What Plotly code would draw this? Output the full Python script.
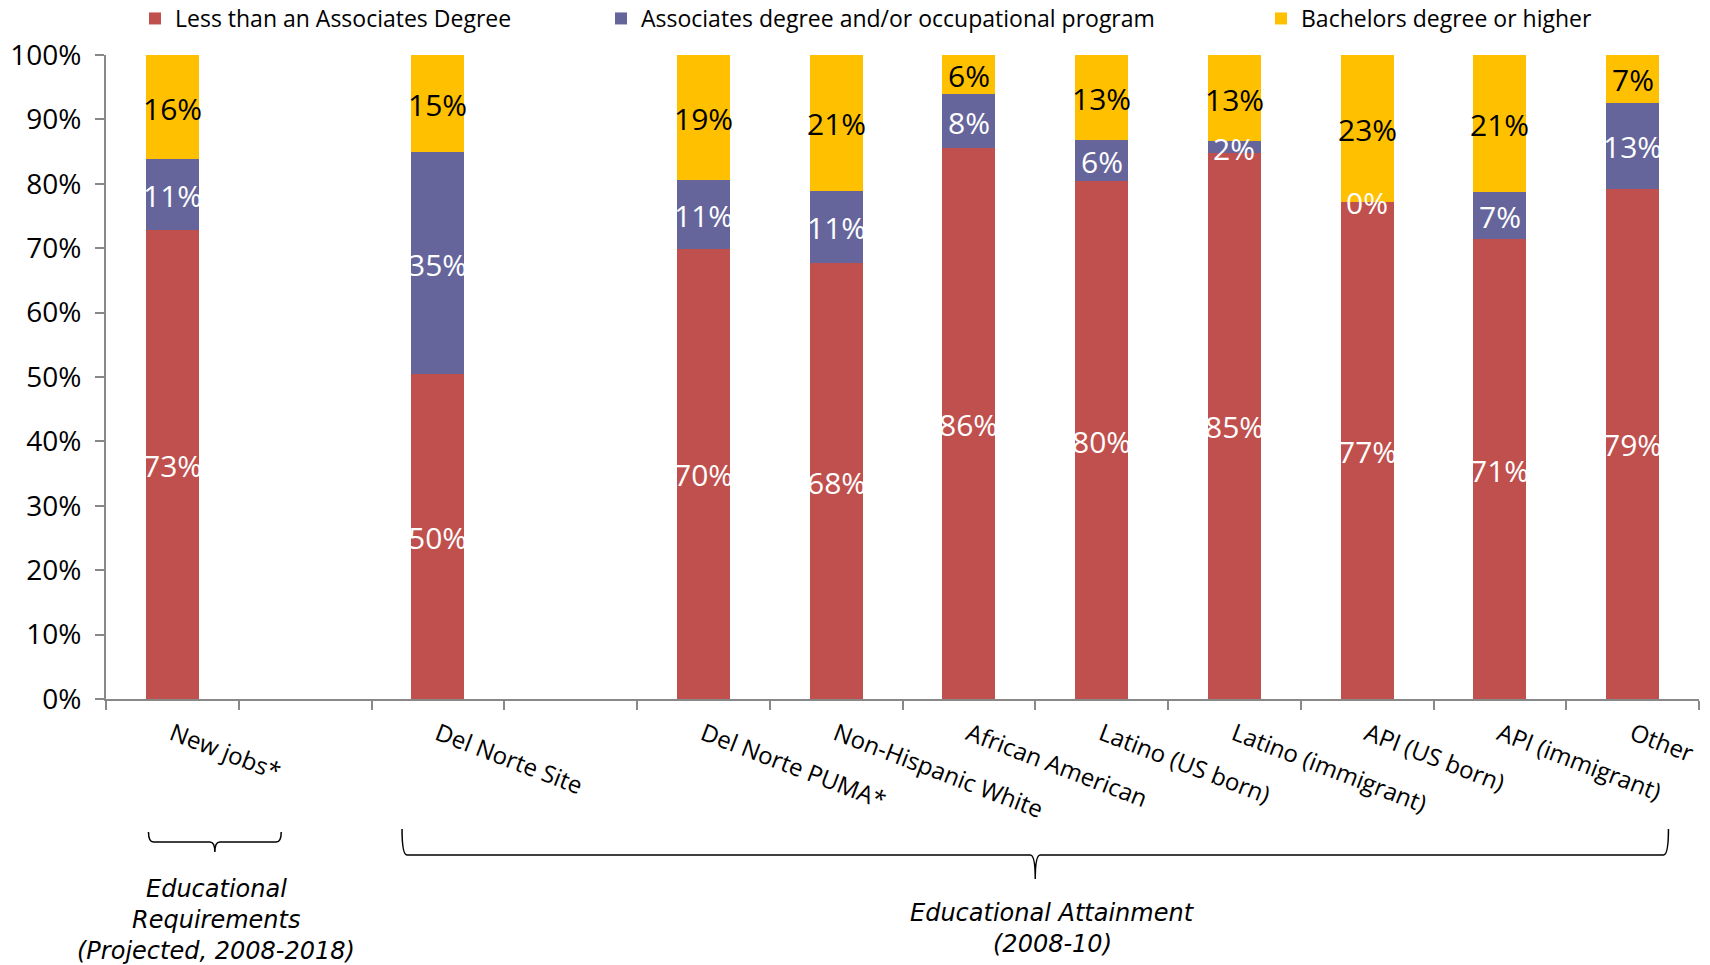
import plotly.graph_objects as go

categories = ["New jobs*", " ", "Del Norte Site", "  ", "Del Norte PUMA*", "Non-Hispanic White",
              "African American", "Latino (US born)", "Latino (immigrant)", "API (US born)",
              "API (immigrant)", "Other"]
less_than_assoc = [72.8, None, 50.4, None, 69.9, 67.7, 85.6, 80.4, 84.8, 77.2, 71.4, 79.2]
assoc_occ = [11.0, None, 34.6, None, 10.7, 11.2, 8.3, 6.4, 1.8, 0.0, 7.3, 13.4]
bachelors = [16.2, None, 15.0, None, 19.4, 21.1, 6.1, 13.2, 13.4, 22.8, 21.3, 7.4]

series_names = ["Less than an Associates Degree",
                "Associates degree and/or occupational program",
                "Bachelors degree or higher"]
colors = ["#C0504D", "#65659B", "#FFC000"]
label_colors = ["white", "white", "black"]

FONT = "Open Sans, Roboto, DejaVu Sans, sans-serif"

# plot geometry (px) for decorations
W, H = 1710, 965
ML, MR, MT, MB = 106, 11, 55, 266
PW, PH = W - ML - MR, H - MT - MB
N = len(categories)


def xp(idx):
    return (idx + 0.5) / N


def yp(py):
    return (H - MB - py) / PH


fig = go.Figure()
series = [less_than_assoc, assoc_occ, bachelors]
legends = ["legend", "legend2", "legend3"]
for vals, name, col, lg in zip(series, series_names, colors, legends):
    fig.add_trace(go.Bar(x=categories, y=vals, name=name, marker=dict(color=col, line=dict(width=0)),
                         hoverinfo="skip", legend=lg, showlegend=True))

# data labels at segment midpoints
base = [0.0] * N
for vals, lc in zip(series, label_colors):
    for i, v in enumerate(vals):
        if v is None:
            continue
        fig.add_annotation(x=categories[i], y=base[i] + v / 2, xref="x", yref="y",
                           text=f"{v:.0f}%", showarrow=False, yshift=-1,
                           font=dict(family=FONT, size=30, color=lc))
        base[i] += v


# braces
def brace(x0, x1, xc, ytop, yline, ytip, r=5):
    X0, X1, XC = xp(x0), xp(x1), xp(xc)
    rx = r / PW
    return (f"M {X0},{yp(ytop)} Q {X0},{yp(yline)} {X0 + rx},{yp(yline)} "
            f"L {XC - rx},{yp(yline)} Q {XC},{yp(yline)} {XC},{yp(ytip)} "
            f"Q {XC},{yp(yline)} {XC + rx},{yp(yline)} "
            f"L {X1 - rx},{yp(yline)} Q {X1},{yp(yline)} {X1},{yp(ytop)}")


for path in [brace(-0.18, 0.82, 0.32, 832, 842, 852), brace(1.73, 11.27, 6.5, 829, 855, 879)]:
    fig.add_shape(type="path", path=path, xref="paper", yref="paper",
                  line=dict(color="black", width=1.5))

ann_font = dict(family="DejaVu Sans, Liberation Sans, sans-serif", size=24, color="black")
group_labels = [
    (0.33, [(889, "Educational"), (920, "Requirements"), (951, "(Projected, 2008-2018)")]),
    (6.63, [(913, "Educational Attainment"), (944, "(2008-10)")]),
]
for xc, lines in group_labels:
    for py, txt in lines:
        fig.add_annotation(x=xp(xc), y=yp(py), xref="paper", yref="paper", showarrow=False,
                           text=f"<i>{txt}</i>", xanchor="center", yanchor="middle", font=ann_font)

legend_common = dict(orientation="h", yanchor="middle", y=yp(18.5), xanchor="left",
                     font=dict(family=FONT, size=23, color="black"), bgcolor="rgba(0,0,0,0)",
                     itemclick=False, itemdoubleclick=False, visible=True)
legend_x_px = [135, 601, 1261]

fig.update_layout(
    width=W, height=H,
    showlegend=True,
    margin=dict(l=ML, r=MR, t=MT, b=MB, autoexpand=False),
    barmode="stack", bargap=0.6,
    plot_bgcolor="white", paper_bgcolor="white",
    font=dict(family=FONT, color="black"),
    legend=dict(legend_common, x=(legend_x_px[0] - ML) / PW),
    legend2=dict(legend_common, x=(legend_x_px[1] - ML) / PW),
    legend3=dict(legend_common, x=(legend_x_px[2] - ML) / PW),
    xaxis=dict(type="category", categoryorder="array", categoryarray=categories,
               range=[-0.5, N - 0.5], tickson="boundaries", ticks="outside", ticklen=9,
               tickwidth=2, tickcolor="#888888", showline=True, linecolor="#888888", linewidth=2,
               tickangle=21, ticklabelstandoff=10,
               tickfont=dict(family=FONT, size=24, color="black"), showgrid=False),
    yaxis=dict(range=[0, 100], dtick=10, ticksuffix="%", ticks="outside", ticklen=9,
               tickwidth=2, tickcolor="#888888", showline=True, linecolor="#888888", linewidth=2,
               ticklabelstandoff=8,
               tickfont=dict(family=FONT, size=28, color="black"), showgrid=False, zeroline=False),
)

fig.write_html("out.html", config={"displayModeBar": False},
               post_script="document.body.style.margin='0';")
